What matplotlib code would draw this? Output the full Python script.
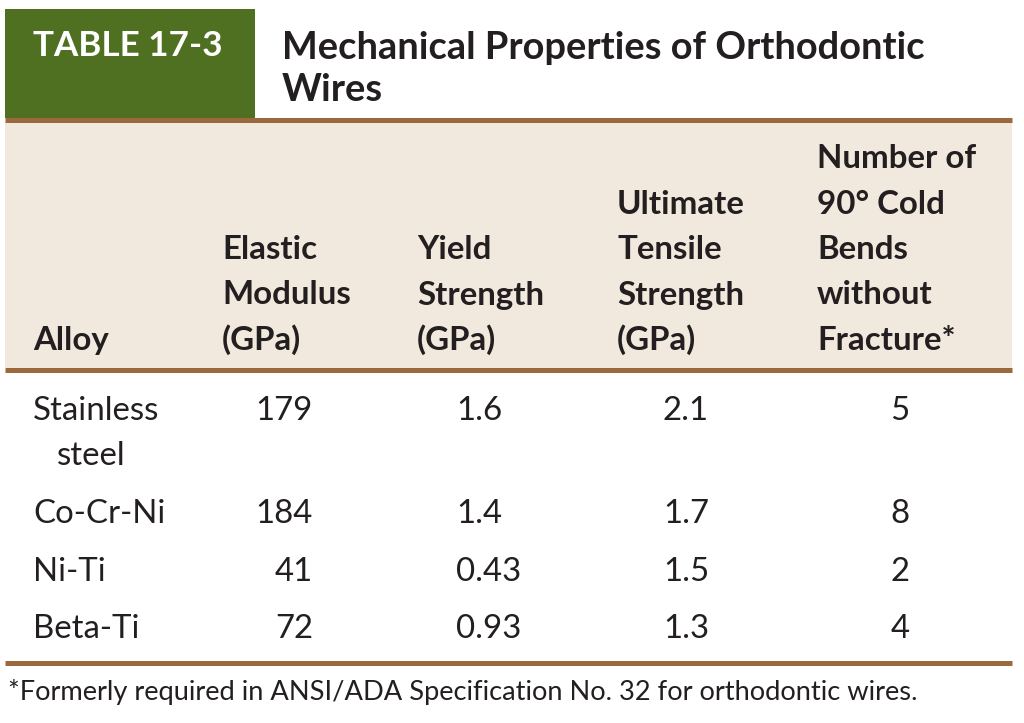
import matplotlib
matplotlib.use("Agg")
import matplotlib.pyplot as plt
from matplotlib.patches import Rectangle

# table content
table_label = "TABLE 17-3"
title_lines = ["Mechanical Properties of Orthodontic", "Wires"]
col_headers = [
    ["Alloy"],
    ["Elastic", "Modulus", "(GPa)"],
    ["Yield", "Strength", "(GPa)"],
    ["Ultimate", "Tensile", "Strength", "(GPa)"],
    ["Number of", "90° Cold", "Bends", "without", "Fracture*"],
]
alloys = [["Stainless", "steel"], ["Co-Cr-Ni"], ["Ni-Ti"], ["Beta-Ti"]]
elastic_modulus = [179, 184, 41, 72]
yield_strength = [1.6, 1.4, 0.43, 0.93]
tensile_strength = [2.1, 1.7, 1.5, 1.3]
cold_bends = [5, 8, 2, 4]
footnote = "*Formerly required in ANSI/ADA Specification No. 32 for orthodontic wires."

GREEN = "#4f7021"
BROWN = "#9a6a3d"
BEIGE = "#f1e9de"
INK = "#231f20"

plt.rcParams["font.family"] = ["Lato", "DejaVu Sans"]

PX = 72 / 100  # pixel -> point


def fs(px):
    return px * PX


fig = plt.figure(figsize=(10.24, 7.23), dpi=100)
ax = fig.add_axes([0, 0, 1, 1])
ax.set_xlim(0, 1024)
ax.set_ylim(723, 0)
ax.axis("off")

# title block
ax.add_patch(Rectangle((5, 9), 250, 109, color=GREEN, lw=0))
ax.text(33, 56, table_label, color="white", fontsize=fs(35), fontweight="bold",
        va="baseline", ha="left")
for i, line in enumerate(title_lines):
    ax.text(282, 59 + i * 42, line, color=INK, fontsize=fs(38), fontweight="bold",
            va="baseline", ha="left")

# header band
ax.add_patch(Rectangle((5, 122), 1007, 246, color=BEIGE, lw=0))
for y in (120, 370, 663):
    ax.plot([5, 1012], [y, y], color=BROWN, lw=5 * PX, solid_capstyle="butt")

col_x = [33, 222, 417, 617, 817]
line_h = 45.5
last_base = 350
for x, lines in zip(col_x, col_headers):
    n = len(lines)
    for i, line in enumerate(lines):
        ax.text(x, last_base - (n - 1 - i) * line_h, line, color=INK,
                fontsize=fs(33), fontweight="bold", va="baseline", ha="left")

# body rows
row_base = [420, 523, 581, 638]
for r, base in enumerate(row_base):
    for j, part in enumerate(alloys[r]):
        ax.text(33 + 24 * j, base + 45 * j, part, color=INK, fontsize=fs(33),
                va="baseline", ha="left")
    ax.text(313, base, str(elastic_modulus[r]), color=INK, fontsize=fs(33),
            va="baseline", ha="right")
    ax.text(456, base, str(yield_strength[r]), color=INK, fontsize=fs(33),
            va="baseline", ha="left")
    ax.text(663, base, str(tensile_strength[r]), color=INK, fontsize=fs(33),
            va="baseline", ha="left")
    ax.text(900, base, str(cold_bends[r]), color=INK, fontsize=fs(33),
            va="baseline", ha="center")

ax.text(8, 700, footnote, color=INK, fontsize=fs(27.2), va="baseline", ha="left")

fig.savefig("out.png", dpi=100)
